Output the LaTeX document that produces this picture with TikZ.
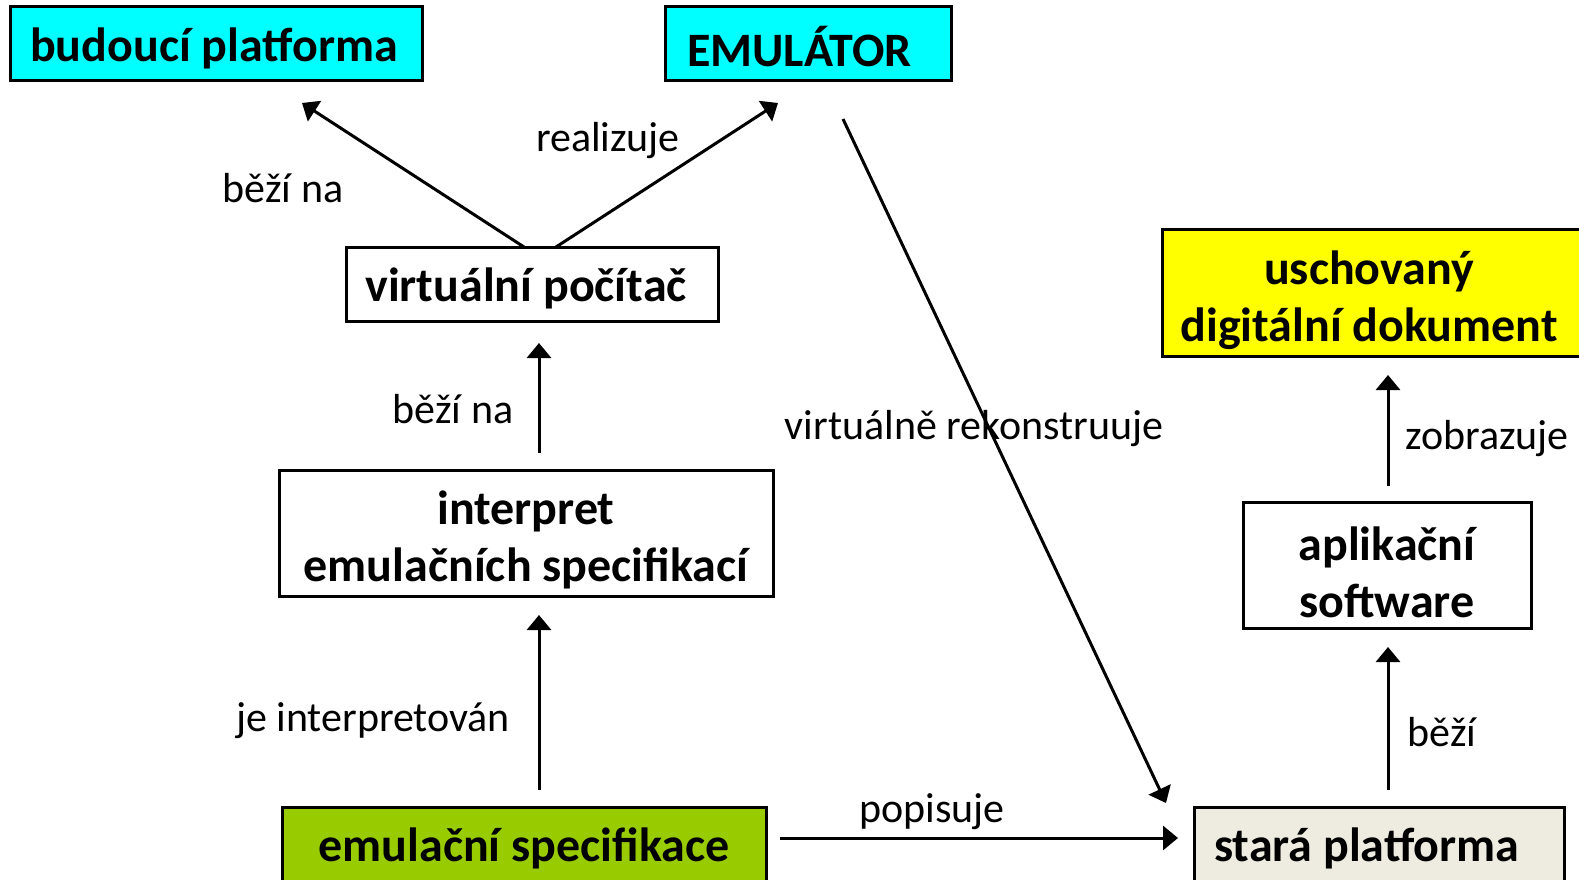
\documentclass[tikz,border=0pt]{standalone}
\usepackage{fontspec}
\setmainfont{Carlito}
\usetikzlibrary{arrows.meta}
\definecolor{cyanbox}{RGB}{0,255,255}
\definecolor{yellowbox}{RGB}{255,255,0}
\definecolor{greenbox}{RGB}{153,204,0}
\definecolor{beigebox}{RGB}{238,236,225}
\tikzset{
  box/.style={draw=black, line width=3pt, inner sep=0pt, font=\fontsize{48}{57}\selectfont\bfseries, align=center},
  btxt/.style={font=\fontsize{48}{57}\selectfont\bfseries, inner sep=0pt},
  lbl/.style={font=\fontsize{42}{48}\selectfont, inner sep=0pt},
  conn/.style={line width=3pt, -{Triangle[length=15pt,width=24pt]}}
}
\begin{document}
\begin{tikzpicture}[x=1pt,y=-1pt]
\useasboundingbox (0,0) rectangle (1579,880);
\clip (0,0) rectangle (1579,880);
% boxes
\node[box, fill=cyanbox, minimum width=412pt, minimum height=74pt] (bp) at (216,44) {};
\node[btxt] (bpt) at (214,48) {budoucí platforma};
\node[box, fill=cyanbox, minimum width=286pt, minimum height=74pt] (em) at (808,44) {};
\node[btxt, anchor=west] (emt) at (687,47) {EMULÁTOR};
\node[box, fill=white, minimum width=372pt, minimum height=74pt] (vp) at (532,284) {};
\node[btxt] (vpt) at (526,288) {virtuální počítač};
\node[box, fill=white, minimum width=494pt, minimum height=126pt] (ip) at (526,533) {};
\node[btxt, align=center] (ipt) at (526,540) {interpret\\emulačních specifikací};
\node[box, fill=greenbox, minimum width=484pt, minimum height=120pt] (es) at (524,867) {};
\node[btxt] (est) at (524,848) {emulační specifikace};
\node[box, fill=beigebox, minimum width=370pt, minimum height=120pt] (sp) at (1379,867) {};
\node[btxt, anchor=west] (spt) at (1214,848) {stará platforma};
\node[box, fill=white, minimum width=288pt, minimum height=126pt] (as) at (1387,565) {};
\node[btxt, align=center] (ast) at (1387,572) {aplikační\\software};
\node[box, fill=yellowbox, minimum width=418pt, minimum height=127pt] (ud) at (1371,293) {};
\node[btxt, align=center] (udt) at (1369,300) {uschovaný\\digitální dokument};
% connector end points
\coordinate (vpL) at (524,247);
\coordinate (vpR) at (556,247);
\coordinate (bpT) at (302,103);
\coordinate (emT) at (778,103);
\coordinate (emS) at (843,119);
\coordinate (spT) at (1166,803);
\coordinate (vpB) at (539,343);
\coordinate (ipT) at (539,453);
\coordinate (ipB) at (539,615);
\coordinate (esT) at (539,790);
\coordinate (esR) at (780,838);
\coordinate (spL) at (1178,838);
\coordinate (asB) at (1388,647);
\coordinate (spTop) at (1388,790);
\coordinate (udB) at (1388,375);
\coordinate (asT) at (1388,486);
% connectors
\draw[conn] (vpL) -- (bpT);
\draw[conn] (vpR) -- (emT);
\draw[conn] (emS) -- (spT);
\draw[conn] (ipT) -- (vpB);
\draw[conn] (esT) -- (ipB);
\draw[conn] (esR) -- (spL);
\draw[conn] (spTop) -- (asB);
\draw[conn] (asT) -- (udB);
% labels
\node[lbl] (l1) at (283,188) {běží na};
\node[lbl] (l2) at (608,141) {realizuje};
\node[lbl] (l3) at (453,409) {běží na};
\node[lbl] (l4) at (974,429) {virtuálně rekonstruuje};
\node[lbl] (l5) at (1487,439) {zobrazuje};
\node[lbl] (l6) at (373,721) {je interpretován};
\node[lbl] (l7) at (932,812) {popisuje};
\node[lbl] (l8) at (1442,732) {běží};
\end{tikzpicture}
\end{document}
